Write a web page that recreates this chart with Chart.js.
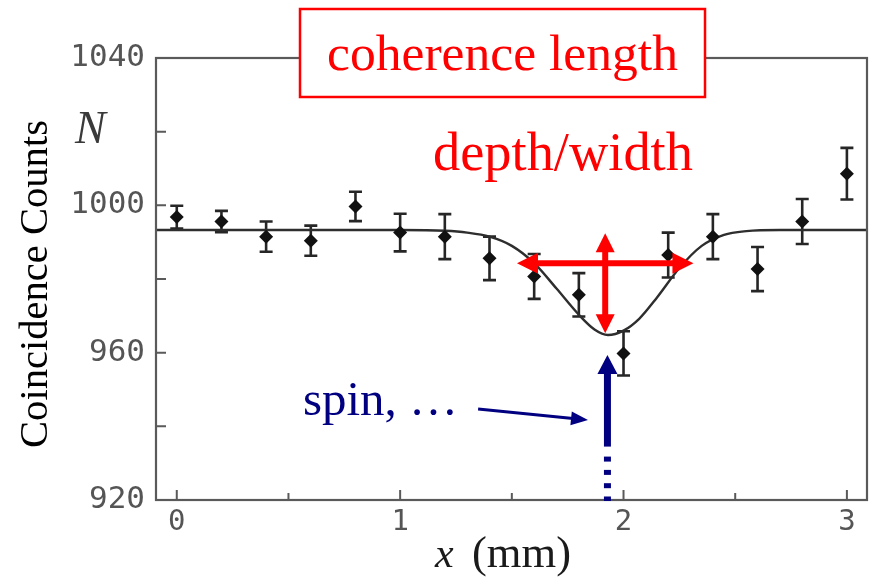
<!DOCTYPE html>
<html>
<head>
<meta charset="utf-8">
<script src="https://cdn.jsdelivr.net/npm/chart.js@4.4.1/dist/chart.umd.min.js"></script>
<style>
html,body{margin:0;padding:0;background:#ffffff;}
#wrap{width:874px;height:580px;position:relative;}
</style>
</head>
<body>
<div id="wrap"><canvas id="c" width="874" height="580"></canvas></div>
<script>
// ---- data ----
const positionsMm = [0, 0.2, 0.4, 0.6, 0.8, 1.0, 1.2, 1.4, 1.6, 1.8, 2.0, 2.2, 2.4, 2.6, 2.8, 3.0];
const counts      = [996.8, 995.6, 991.5, 990.4, 999.7, 992.6, 991.5, 985.6, 980.7, 975.7, 959.8, 986.5, 991.5, 982.7, 995.6, 1008.6];
const countErrors = [3.1, 2.9, 4.1, 4.1, 4.0, 5.1, 6.1, 5.9, 6.1, 5.9, 6.0, 6.1, 6.1, 6.0, 6.1, 7.0];

const fitX      = [-0.093, 1.0, 1.2, 1.3, 1.4, 1.5, 1.6, 1.7, 1.8, 1.87, 1.93, 2.0, 2.07, 2.15, 2.25, 2.35, 2.45, 2.55, 2.7, 3.09];
const fitCounts = [993.3, 993.3, 993.1, 992.6, 991.5, 989.0, 984.3, 977.4, 970.3, 966.3, 964.8, 966.0, 969.2, 975.0, 983.0, 989.0, 992.0, 993.0, 993.3, 993.3];

const xTickValues = [0, 0.5, 1, 1.5, 2, 2.5, 3];
const xTickLabels = ['0', '', '1', '', '2', '', '3'];
const yTickValues = [920, 940, 960, 980, 1000, 1020, 1040];
const yTickLabels = ['920', '', '960', '', '1000', '', '1040'];

const xRange = [-0.093, 3.09];
const yRange = [920, 1040];

// annotation anchors in data units
const widthArrowX  = [1.523, 2.313];
const widthArrowY  = [984.3];
const depthArrowX  = [1.918];
const depthArrowY  = [992.4, 965.3];
const spinArrowX   = [1.928];
const spinArrowY   = [920, 934.5, 959.4];
const pointerX     = [1.349, 1.841];
const pointerY     = [944.7, 941.7];

const RED = '#ff0000';
const NAVY = '#000080';
const SERIF = '"Liberation Serif", "DejaVu Serif", serif';
const MONO = '"DejaVu Sans Mono", monospace';

function fitFont(ctx, text, style, family, targetWidth) {
  ctx.font = style + ' 100px ' + family;
  const w = ctx.measureText(text).width;
  const size = 100 * targetWidth / w;
  ctx.font = style + ' ' + size.toFixed(2) + 'px ' + family;
  return size;
}

function arrowHead(ctx, x1, y1, x2, y2, len, wid) {
  const a = Math.atan2(y2 - y1, x2 - x1);
  const bx = x2 - Math.cos(a) * len, by = y2 - Math.sin(a) * len;
  const px = -Math.sin(a) * wid / 2, py = Math.cos(a) * wid / 2;
  ctx.beginPath();
  ctx.moveTo(x2, y2);
  ctx.lineTo(bx + px, by + py);
  ctx.lineTo(bx - px, by - py);
  ctx.closePath();
  ctx.fill();
}

function shaft(ctx, x1, y1, x2, y2, lw) {
  ctx.lineWidth = lw;
  ctx.lineCap = 'butt';
  ctx.beginPath();
  ctx.moveTo(x1, y1);
  ctx.lineTo(x2, y2);
  ctx.stroke();
}

function doubleArrow(ctx, x1, y1, x2, y2, lw, len, wid, color) {
  ctx.strokeStyle = color; ctx.fillStyle = color;
  const a = Math.atan2(y2 - y1, x2 - x1);
  const sx1 = x1 + Math.cos(a) * (len - 2), sy1 = y1 + Math.sin(a) * (len - 2);
  const sx2 = x2 - Math.cos(a) * (len - 2), sy2 = y2 - Math.sin(a) * (len - 2);
  shaft(ctx, sx1, sy1, sx2, sy2, lw);
  arrowHead(ctx, x1, y1, x2, y2, len, wid);
  arrowHead(ctx, x2, y2, x1, y1, len, wid);
}

function singleArrow(ctx, x1, y1, x2, y2, lw, len, wid, color) {
  ctx.strokeStyle = color; ctx.fillStyle = color;
  const a = Math.atan2(y2 - y1, x2 - x1);
  const ex = x2 - Math.cos(a) * (len - 2), ey = y2 - Math.sin(a) * (len - 2);
  shaft(ctx, x1, y1, ex, ey, lw);
  arrowHead(ctx, x1, y1, x2, y2, len, wid);
}

const decor = {
  id: 'decor',
  beforeDatasetsDraw(chart) {
    const ctx = chart.ctx, xs = chart.scales.x, ys = chart.scales.y;
    ctx.save();
    ctx.strokeStyle = '#262626';
    ctx.lineWidth = 2.6;
    ctx.lineCap = 'butt';
    positionsMm.forEach((xv, i) => {
      const px = xs.getPixelForValue(xv);
      const top = ys.getPixelForValue(counts[i] + countErrors[i]);
      const bot = ys.getPixelForValue(counts[i] - countErrors[i]);
      ctx.beginPath();
      ctx.moveTo(px, top); ctx.lineTo(px, bot);
      ctx.moveTo(px - 6.5, top); ctx.lineTo(px + 6.5, top);
      ctx.moveTo(px - 6.5, bot); ctx.lineTo(px + 6.5, bot);
      ctx.stroke();
    });
    ctx.restore();
  },
  afterDraw(chart) {
    const ctx = chart.ctx, xs = chart.scales.x, ys = chart.scales.y;
    const a = chart.chartArea;
    ctx.save();
    // frame
    ctx.strokeStyle = '#5a5a5a';
    ctx.lineWidth = 2.2;
    ctx.strokeRect(a.left, a.top, a.right - a.left, a.bottom - a.top);
    // inward ticks
    ctx.lineWidth = 2;
    ctx.beginPath();
    yTickValues.forEach(v => {
      const py = ys.getPixelForValue(v);
      ctx.moveTo(a.left, py); ctx.lineTo(a.left + 10, py);
    });
    xTickValues.forEach(v => {
      const px = xs.getPixelForValue(v);
      const len = Number.isInteger(v) ? 10 : 7;
      ctx.moveTo(px, a.bottom); ctx.lineTo(px, a.bottom - len);
    });
    ctx.stroke();

    // red depth / width arrows
    doubleArrow(ctx, xs.getPixelForValue(widthArrowX[0]), ys.getPixelForValue(widthArrowY[0]),
                xs.getPixelForValue(widthArrowX[1]), ys.getPixelForValue(widthArrowY[0]), 6, 21, 21, RED);
    doubleArrow(ctx, xs.getPixelForValue(depthArrowX[0]), ys.getPixelForValue(depthArrowY[0]),
                xs.getPixelForValue(depthArrowX[0]), ys.getPixelForValue(depthArrowY[1]), 6, 19, 19, RED);

    // blue vertical arrow (solid + dotted)
    const bx = xs.getPixelForValue(spinArrowX[0]);
    const yBottom = ys.getPixelForValue(spinArrowY[0]);
    const ySolid = ys.getPixelForValue(spinArrowY[1]);
    const yTip = ys.getPixelForValue(spinArrowY[2]);
    singleArrow(ctx, bx, ySolid, bx, yTip, 7, 19, 20, NAVY);
    ctx.fillStyle = NAVY;
    for (let yy = ySolid + 10; yy < yBottom; yy += 13.3) {
      ctx.fillRect(bx - 3.5, yy, 7, Math.min(5, yBottom + 1 - yy));
    }
    // thin pointer arrow
    singleArrow(ctx, xs.getPixelForValue(pointerX[0]), ys.getPixelForValue(pointerY[0]),
                xs.getPixelForValue(pointerX[1]), ys.getPixelForValue(pointerY[1]), 3, 17, 14, NAVY);

    // texts
    ctx.textBaseline = 'alphabetic';
    ctx.textAlign = 'left';
    ctx.fillStyle = '#ffffff';
    ctx.fillRect(300, 9, 405, 88);
    ctx.strokeStyle = RED;
    ctx.lineWidth = 2.5;
    ctx.strokeRect(300, 9, 405, 88);
    ctx.fillStyle = RED;
    fitFont(ctx, 'coherence length', 'normal', SERIF, 351);
    ctx.fillText('coherence length', 327, 70);
    fitFont(ctx, 'depth/width', 'normal', SERIF, 260);
    ctx.fillText('depth/width', 433, 170);
    ctx.fillStyle = NAVY;
    fitFont(ctx, 'spin, …', 'normal', SERIF, 155);
    ctx.fillText('spin, …', 303, 415);

    // axis titles
    ctx.fillStyle = '#000000';
    ctx.save();
    ctx.translate(47, 284);
    ctx.rotate(-Math.PI / 2);
    ctx.textAlign = 'center';
    fitFont(ctx, 'Coincidence Counts', 'normal', SERIF, 328);
    ctx.fillText('Coincidence Counts', 0, 0);
    ctx.restore();

    ctx.fillStyle = '#3a3a3a';
    ctx.font = 'italic 46px ' + SERIF;
    ctx.fillText('N', 75, 143);

    ctx.fillStyle = '#1a1a1a';
    ctx.font = 'italic 42px ' + SERIF;
    ctx.fillText('x', 435, 567);
    fitFont(ctx, '(mm)', 'normal', SERIF, 99);
    ctx.fillText('(mm)', 472, 567);
    ctx.restore();
  }
};

const ctx = document.getElementById('c').getContext('2d');
new Chart(ctx, {
  type: 'scatter',
  data: {
    datasets: [
      {
        type: 'line',
        label: 'fit',
        data: fitX.map((x, i) => ({ x: x, y: fitCounts[i] })),
        borderColor: '#2e2e2e',
        borderWidth: 2.4,
        pointRadius: 0,
        fill: false,
        cubicInterpolationMode: 'monotone',
        order: 2
      },
      {
        label: 'counts',
        data: positionsMm.map((x, i) => ({ x: x, y: counts[i] })),
        pointStyle: 'rectRot',
        pointRadius: 7,
        pointHoverRadius: 7,
        backgroundColor: '#111111',
        borderWidth: 0,
        order: 1
      }
    ]
  },
  options: {
    responsive: false,
    animation: false,
    events: [],
    layout: { padding: { top: 58, right: 7, left: 0, bottom: 0 } },
    plugins: { legend: { display: false }, tooltip: { enabled: false } },
    scales: {
      x: {
        type: 'linear',
        min: xRange[0], max: xRange[1],
        afterBuildTicks: s => { s.ticks = xTickValues.map(v => ({ value: v })); },
        afterFit: s => { s.height = 80; },
        grid: { display: false, drawTicks: false },
        border: { display: false },
        ticks: {
          autoSkip: false, maxRotation: 0, padding: 5,
          color: '#555555',
          font: { family: MONO, size: 29 },
          callback: v => { const i = xTickValues.indexOf(v); return i >= 0 ? xTickLabels[i] : ''; }
        }
      },
      y: {
        type: 'linear',
        min: yRange[0], max: yRange[1],
        afterBuildTicks: s => { s.ticks = yTickValues.map(v => ({ value: v })); },
        afterFit: s => { s.width = 156; },
        grid: { display: false, drawTicks: false },
        border: { display: false },
        ticks: {
          autoSkip: false, padding: 11,
          color: '#555555',
          font: { family: MONO, size: 31 },
          callback: v => { const i = yTickValues.indexOf(v); return i >= 0 ? yTickLabels[i] : ''; }
        }
      }
    }
  },
  plugins: [decor]
});
</script>
</body>
</html>
